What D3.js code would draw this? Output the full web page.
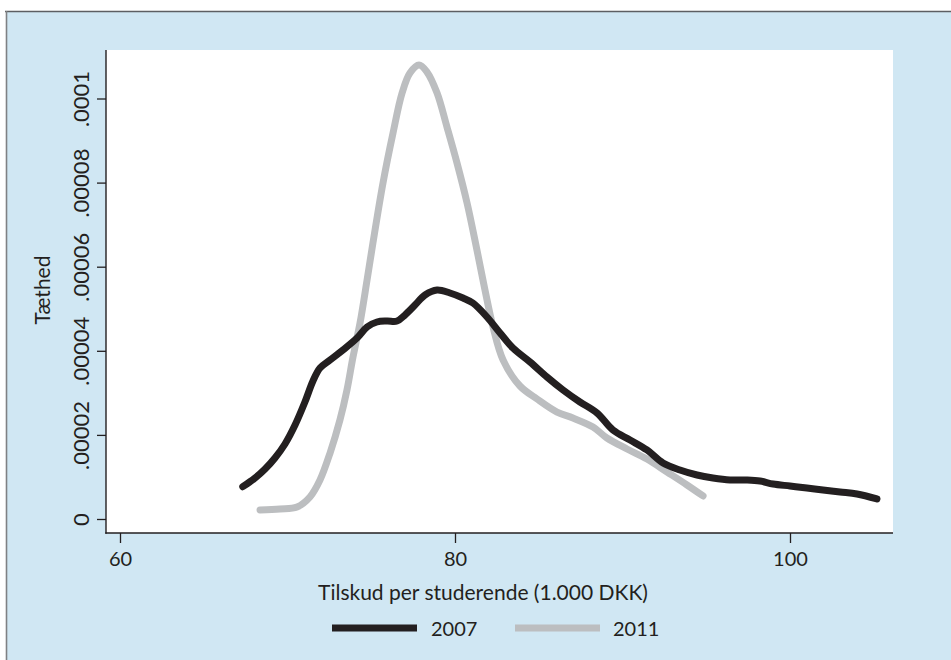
<!DOCTYPE html>
<html>
<head>
<meta charset="utf-8">
<script src="https://cdn.jsdelivr.net/npm/d3@7/dist/d3.min.js"></script>
<style>
  html, body { margin: 0; padding: 0; background: #ffffff; }
  svg { display: block; }
  text { font-family: Lato, "Open Sans", "Noto Sans", sans-serif; fill: #231f20; }
</style>
</head>
<body>
<svg id="chart" width="951" height="660"></svg>
<script>
// Kernel density of subsidy per student (1,000 DKK), 2007 vs 2011
const years = ["2007", "2011"];

const x2007 = [67.33, 68.06, 68.66, 69.25, 69.85, 70.45, 71.04, 71.52, 71.94, 72.54, 73.31,
  74.15, 74.75, 75.34, 75.94, 76.54, 77.01, 77.61, 78.21, 78.93, 79.70,
  80.48, 81.07, 81.91, 82.69, 83.46, 84.48, 85.49, 86.45, 87.46, 88.48,
  89.43, 90.45, 91.46, 92.42, 93.43, 94.45, 95.40, 96.42, 97.43, 98.21,
  98.99, 100.0, 101.01, 101.97, 102.99, 104.00, 105.19];
const d2007 = [0.768, 0.975, 1.189, 1.451, 1.784, 2.235, 2.782, 3.282, 3.591, 3.781, 4.019,
  4.304, 4.566, 4.685, 4.708, 4.708, 4.851, 5.089, 5.327, 5.446, 5.374,
  5.255, 5.136, 4.804, 4.423, 4.066, 3.733, 3.377, 3.068, 2.782, 2.521,
  2.116, 1.879, 1.641, 1.332, 1.165, 1.046, 0.975, 0.927, 0.927, 0.904,
  0.832, 0.785, 0.737, 0.690, 0.642, 0.595, 0.476];

const x2011 = [68.36, 69.55, 70.57, 71.34, 71.94, 72.54, 73.13, 73.55, 73.91, 74.33,
  74.75, 75.10, 75.70, 76.30, 76.84, 77.31, 77.85, 78.33, 78.93, 79.52,
  80.12, 80.72, 81.31, 81.79, 82.27, 82.87, 83.88, 84.90, 86.09, 87.04,
  88.24, 89.07, 90.27, 91.46, 92.66, 93.85, 94.81];
const d2011 = [0.214, 0.238, 0.285, 0.523, 0.927, 1.569, 2.354, 3.068, 3.852, 4.661,
  5.683, 6.563, 7.990, 9.179, 10.130, 10.606, 10.796, 10.630, 10.130, 9.322,
  8.466, 7.514, 6.397, 5.446, 4.566, 3.781, 3.163, 2.854, 2.544, 2.402,
  2.188, 1.926, 1.665, 1.427, 1.118, 0.809, 0.547];

// density values above are in units of 1e-5
const densityUnit = 1e-5;

const xTicks = [60, 80, 100];
const yTicks = [0, 0.00002, 0.00004, 0.00006, 0.00008, 0.0001];
const yTickLabels = ["0", ".00002", ".00004", ".00006", ".00008", ".0001"];

const xTitle = "Tilskud per studerende (1.000 DKK)";
const yTitle = "Tæthed";

const colors = { "2007": "#231f20", "2011": "#bcbec0" };

const svg = d3.select("#chart");
const W = 951, H = 660;

// panel frame
const frame = { left: 106, right: 893, top: 50, bottom: 533 };

const x = d3.scaleLinear().domain([60, 100]).range([120, 790]);
const y = d3.scaleLinear().domain([0, 0.0001]).range([519, 98.5]);

// outer light-blue panel with a thin rule on top and left
svg.append("rect").attr("x", 6).attr("y", 11).attr("width", W - 6).attr("height", H - 11)
  .attr("fill", "#d0e7f3");
svg.append("line").attr("x1", 5).attr("x2", W).attr("y1", 11.5).attr("y2", 11.5)
  .attr("stroke", "#5d5f62").attr("stroke-width", 1.6);
svg.append("line").attr("x1", 6.5).attr("x2", 6.5).attr("y1", 11).attr("y2", H)
  .attr("stroke", "#7f8184").attr("stroke-width", 1.6);

// white plot region
svg.append("rect")
  .attr("x", frame.left).attr("y", frame.top)
  .attr("width", frame.right - frame.left).attr("height", frame.bottom - frame.top)
  .attr("fill", "#ffffff");

// axes
const xAxis = d3.axisBottom(x).tickValues(xTicks).tickFormat(d3.format("d"))
  .tickSize(10).tickPadding(9);
const gx = svg.append("g").attr("transform", `translate(0,${frame.bottom})`).call(xAxis);
gx.select(".domain").remove();
gx.selectAll(".tick line").attr("stroke", "#231f20").attr("stroke-width", 1.3);
gx.selectAll(".tick text").attr("font-size", 20).attr("fill", "#231f20")
  .attr("font-family", "Lato, 'Open Sans', sans-serif");

const yAxis = d3.axisLeft(y).tickValues(yTicks)
  .tickFormat((d, i) => yTickLabels[i]).tickSize(9).tickPadding(0);
const gy = svg.append("g").attr("transform", `translate(${frame.left},0)`).call(yAxis);
gy.select(".domain").remove();
gy.selectAll(".tick line").attr("stroke", "#231f20").attr("stroke-width", 1.3);
gy.selectAll(".tick text")
  .attr("x", null).attr("dy", null)
  .attr("font-size", 22).attr("fill", "#231f20")
  .attr("font-family", "Lato, 'Open Sans', sans-serif")
  .attr("text-anchor", "middle")
  .attr("transform", "translate(-17,0) rotate(-90)");

// axis lines of the frame
svg.append("line").attr("x1", frame.left).attr("x2", frame.left)
  .attr("y1", frame.top).attr("y2", frame.bottom + 0.7)
  .attr("stroke", "#231f20").attr("stroke-width", 1.4);
svg.append("line").attr("x1", frame.left - 0.7).attr("x2", frame.right)
  .attr("y1", frame.bottom).attr("y2", frame.bottom)
  .attr("stroke", "#231f20").attr("stroke-width", 1.4);

// density curves
const line = d3.line()
  .x(d => x(d[0]))
  .y(d => y(d[1] * densityUnit))
  .curve(d3.curveCatmullRom.alpha(0.5));

const series = [
  { year: "2011", pts: d3.zip(x2011, d2011) },
  { year: "2007", pts: d3.zip(x2007, d2007) }
];

svg.append("g").selectAll("path").data(series).join("path")
  .attr("d", s => line(s.pts))
  .attr("fill", "none")
  .attr("stroke", s => colors[s.year])
  .attr("stroke-width", 7)
  .attr("stroke-linecap", "round")
  .attr("stroke-linejoin", "round");

// axis titles
svg.append("text").attr("x", 483).attr("y", 600)
  .attr("text-anchor", "middle").attr("font-size", 21).text(xTitle);
svg.append("text")
  .attr("transform", "translate(50,290) rotate(-90)")
  .attr("text-anchor", "middle").attr("font-size", 21).text(yTitle);

// legend
const legend = [
  { year: "2007", x1: 332, x2: 417, tx: 431 },
  { year: "2011", x1: 515, x2: 600, tx: 613 }
];
const lg = svg.append("g");
legend.forEach(l => {
  lg.append("line").attr("x1", l.x1).attr("x2", l.x2).attr("y1", 628).attr("y2", 628)
    .attr("stroke", colors[l.year]).attr("stroke-width", 7);
  lg.append("text").attr("x", l.tx).attr("y", 636).attr("font-size", 20).text(l.year);
});
</script>
</body>
</html>
